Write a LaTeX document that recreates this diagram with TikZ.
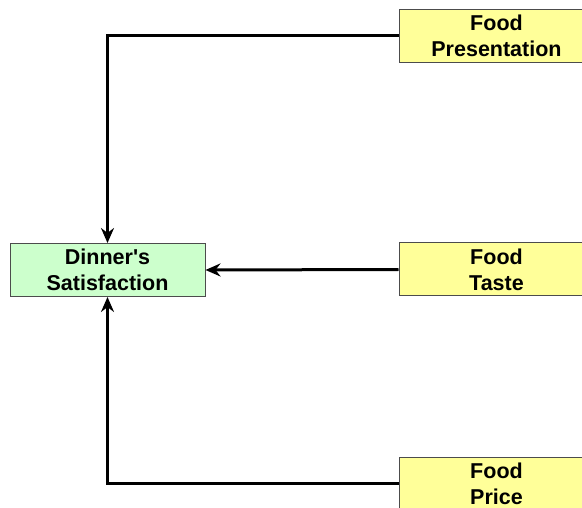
\documentclass[tikz,border=0pt]{standalone}
\usepackage{fontspec}
\setmainfont{Liberation Sans}
\usetikzlibrary{arrows.meta}
\definecolor{factor}{HTML}{FFFF99}
\definecolor{result}{HTML}{CCFFCC}

\begin{document}
\begin{tikzpicture}
  [x=1pt,y=-1pt,
   box/.style={draw=black!70,line width=1pt,minimum width=195pt,minimum height=53pt,
     inner sep=0pt,align=center,font=\fontsize{21.5}{26}\selectfont\bfseries},
   link/.style={line width=3pt,-{Stealth[length=15pt,width=13pt,inset=5pt]}}]
  \useasboundingbox (0,0) rectangle (582,508);
  \clip (0,0) rectangle (582,508);

  \node[box,fill=factor] (pres) at (496.5,36) {Food\\Presentation};
  \node[box,fill=factor] (taste) at (496.5,269.5) {Food\\Taste};
  \node[box,fill=factor] (price) at (496.5,483.5) {Food\\Price};
  \node[box,fill=result] (sat) at (107.5,270) {Dinner\textquotesingle s\\Satisfaction};

  \draw [link] (pres.west) -| (sat.north);
  \draw [link] (taste.west) -- (sat.east);
  \draw [link] (price.west) -| (sat.south);

\end{tikzpicture}
\end{document}
